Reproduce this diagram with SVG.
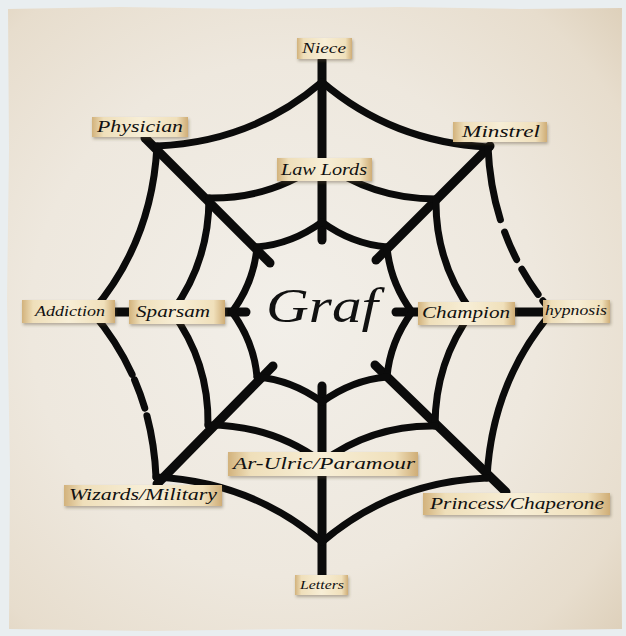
<svg xmlns="http://www.w3.org/2000/svg" xmlns:xlink="http://www.w3.org/1999/xlink" width="626" height="636" viewBox="0 0 626 636">
<defs>
  <radialGradient id="paper" cx="0.45" cy="0.5" r="0.75">
    <stop offset="0" stop-color="#f2efe9"/>
    <stop offset="0.55" stop-color="#eee8de"/>
    <stop offset="0.85" stop-color="#e7ddcd"/>
    <stop offset="1" stop-color="#ddcfb9"/>
  </radialGradient>
  <linearGradient id="tag" x1="0" y1="0" x2="1" y2="0">
    <stop offset="0" stop-color="#d2b27c"/>
    <stop offset="0.12" stop-color="#efdfba"/>
    <stop offset="0.5" stop-color="#f7eed6"/>
    <stop offset="0.88" stop-color="#f0e0bb"/>
    <stop offset="1" stop-color="#cfad76"/>
  </linearGradient>
  <filter id="sh" x="-10%" y="-30%" width="120%" height="170%">
    <feDropShadow dx="1" dy="2" stdDeviation="1.6" flood-color="#5a4a30" flood-opacity="0.4"/>
  </filter>
  <path id="o1" d="M0,-230 Q70,-170 166,-165"/>
  <path id="o2" d="M166,-165 Q170,-70 230,0"/>
  <path id="m1" d="M0,-150 Q50,-113 114,-113"/>
  <path id="m2" d="M114,-113 Q113,-50 150,0"/>
  <path id="i1" d="M0,-90 Q30,-68 65,-65"/>
  <path id="i2" d="M65,-65 Q68,-30 90,0"/>
  <style>
    .web { fill: none; stroke: #0b0b0b; stroke-linecap: round; stroke-linejoin: round; }
    .spoke { stroke-width: 9; }
    .ring { stroke-width: 7; }
    .tagbox { fill: url(#tag); filter: url(#sh); }
    .lbl { font-family: "Liberation Serif", "DejaVu Serif", serif; font-style: italic; fill: #111; text-anchor: middle; }
  </style>
</defs>

<rect x="0" y="0" width="626" height="636" fill="#e9eef0"/>
<path d="M8,9 L120,7 L250,9 L400,7 L520,9 L622,8 L621,160 L623,330 L621,500 L622,629 L480,631 L300,629 L150,631 L9,629 L10,470 L7,300 L9,150 Z" fill="url(#paper)"/>

<g id="connectors" class="web">
  <g class="spoke">
    <line x1="322" y1="60" x2="322" y2="240"/>
    <line x1="322" y1="386" x2="322" y2="578"/>
    <line x1="110" y1="312" x2="246" y2="312"/>
    <line x1="396" y1="312" x2="548" y2="312"/>
    <line x1="145" y1="138" x2="270" y2="263"/>
    <line x1="376" y1="260" x2="490" y2="146"/>
    <line x1="157" y1="484" x2="273" y2="366"/>
    <line x1="375" y1="365" x2="506" y2="492"/>
  </g>
  <g class="ring" transform="translate(322,312)">
    <use xlink:href="#o1"/>
    <use xlink:href="#o2" style="stroke-dasharray:74 13 30 11 30 8 300"/>
    <use xlink:href="#m1"/><use xlink:href="#m2"/>
    <use xlink:href="#i1"/><use xlink:href="#i2"/>
  </g>
  <g class="ring" transform="translate(322,312) rotate(90)">
    <use xlink:href="#o1"/><use xlink:href="#o2"/>
    <use xlink:href="#m1"/><use xlink:href="#m2"/>
    <use xlink:href="#i1"/><use xlink:href="#i2"/>
  </g>
  <g class="ring" transform="translate(322,312) rotate(180)">
    <use xlink:href="#o1"/>
    <use xlink:href="#o2" style="stroke-dasharray:62 8 30 6 300"/>
    <use xlink:href="#m1"/><use xlink:href="#m2"/>
    <use xlink:href="#i1"/><use xlink:href="#i2"/>
  </g>
  <g class="ring" transform="translate(322,312) rotate(270)">
    <use xlink:href="#o1"/><use xlink:href="#o2"/>
    <use xlink:href="#m1"/><use xlink:href="#m2"/>
    <use xlink:href="#i1"/><use xlink:href="#i2"/>
  </g>
</g>

<g id="graf">
  <text class="lbl" x="322" y="322" font-size="48" textLength="112" lengthAdjust="spacingAndGlyphs">Graf</text>
</g>

<g id="niece">
  <rect class="tagbox" x="297" y="38" width="55" height="21"/>
  <text class="lbl" x="324" y="53" font-size="14" textLength="44" lengthAdjust="spacingAndGlyphs">Niece</text>
</g>
<g id="physician">
  <rect class="tagbox" x="92" y="117" width="96" height="20"/>
  <text class="lbl" x="140" y="132" font-size="17" textLength="86" lengthAdjust="spacingAndGlyphs">Physician</text>
</g>
<g id="minstrel">
  <rect class="tagbox" x="453" y="122" width="94" height="20"/>
  <text class="lbl" x="501" y="137" font-size="17" textLength="78" lengthAdjust="spacingAndGlyphs">Minstrel</text>
</g>
<g id="lawlords">
  <rect class="tagbox" x="277" y="158" width="95" height="23"/>
  <text class="lbl" x="324" y="175" font-size="16" textLength="86" lengthAdjust="spacingAndGlyphs">Law Lords</text>
</g>
<g id="addiction">
  <rect class="tagbox" x="22" y="300" width="93" height="23"/>
  <text class="lbl" x="70" y="316" font-size="14" textLength="70" lengthAdjust="spacingAndGlyphs">Addiction</text>
</g>
<g id="sparsam">
  <rect class="tagbox" x="129" y="300" width="96" height="24"/>
  <text class="lbl" x="173" y="317" font-size="16" textLength="74" lengthAdjust="spacingAndGlyphs">Sparsam</text>
</g>
<g id="champion">
  <rect class="tagbox" x="418" y="302" width="97" height="23"/>
  <text class="lbl" x="466" y="318" font-size="16" textLength="88" lengthAdjust="spacingAndGlyphs">Champion</text>
</g>
<g id="hypnosis">
  <rect class="tagbox" x="543" y="300" width="67" height="23"/>
  <text class="lbl" x="576" y="315" font-size="14" textLength="62" lengthAdjust="spacingAndGlyphs">hypnosis</text>
</g>
<g id="arulric">
  <rect class="tagbox" x="228" y="452" width="190" height="24"/>
  <text class="lbl" x="324" y="469" font-size="17" textLength="182" lengthAdjust="spacingAndGlyphs">Ar-Ulric/Paramour</text>
</g>
<g id="wizards">
  <rect class="tagbox" x="64" y="485" width="158" height="21"/>
  <text class="lbl" x="143" y="500" font-size="16" textLength="148" lengthAdjust="spacingAndGlyphs">Wizards/Military</text>
</g>
<g id="princess">
  <rect class="tagbox" x="423" y="493" width="187" height="22"/>
  <text class="lbl" x="517" y="509" font-size="16" textLength="174" lengthAdjust="spacingAndGlyphs">Princess/Chaperone</text>
</g>
<g id="letters">
  <rect class="tagbox" x="295" y="575" width="53" height="20"/>
  <text class="lbl" x="322" y="589" font-size="13" textLength="44" lengthAdjust="spacingAndGlyphs">Letters</text>
</g>
</svg>
